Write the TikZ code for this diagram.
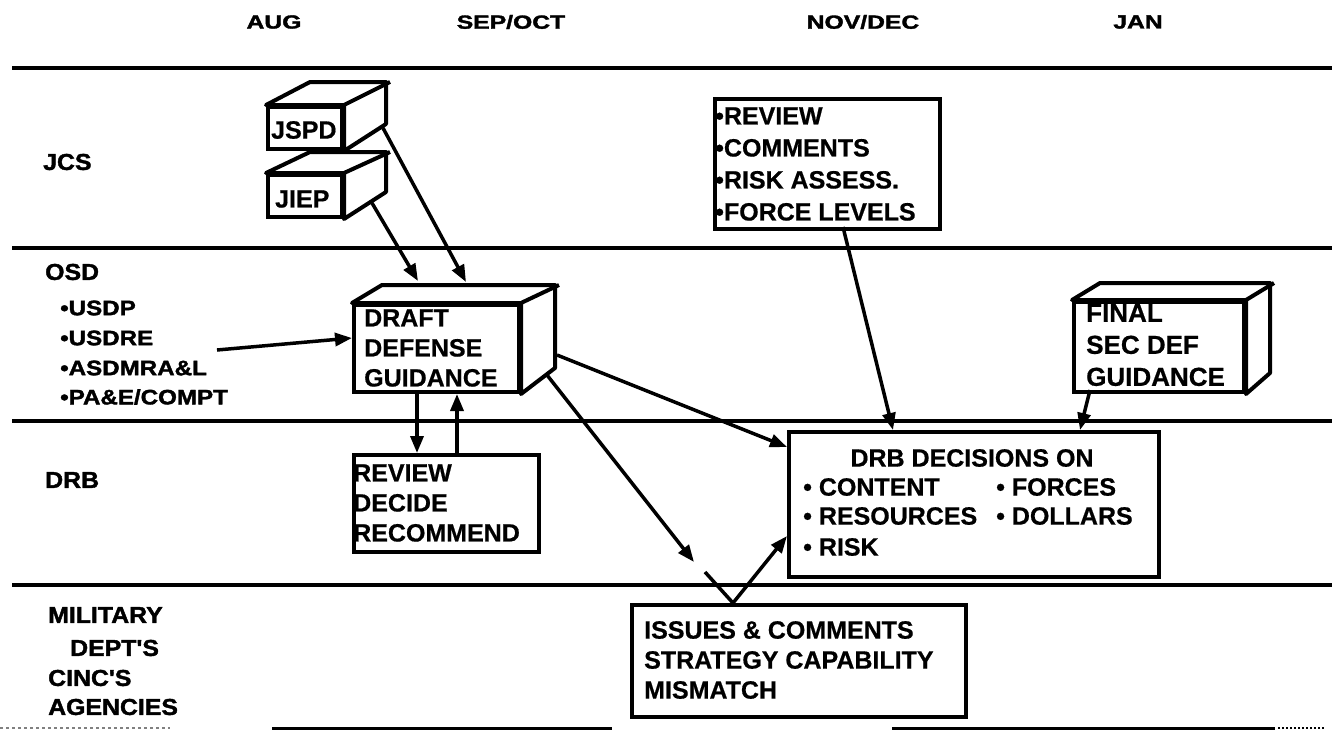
\documentclass[tikz,border=0pt]{standalone}
\usepackage{fontspec}
\setmainfont{Liberation Sans}
\newfontfamily\heavy[FakeBold=1.6]{Liberation Sans Bold}
\newfontfamily\boxfont[FakeBold=0.6]{Liberation Sans Bold}
\usetikzlibrary{arrows.meta,calc}
\begin{document}
\begin{tikzpicture}[x=1pt,y=-1pt,
  rule/.style={line width=3.5pt},
  box/.style={draw,line width=4pt,inner sep=0pt,anchor=north west},
  face/.style={draw,line width=4pt,line join=round,fill=white},
  txt/.style={anchor=west,inner sep=0pt,align=left,font=\fontsize{25}{31}\selectfont\boxfont},
  hdr/.style={inner sep=0pt,font=\fontsize{19}{19}\selectfont\heavy,xscale=1.3},
  rowlbl/.style={anchor=west,inner sep=0pt,font=\fontsize{23}{23}\selectfont\heavy,xscale=1.08},
  sublbl/.style={anchor=west,inner sep=0pt,font=\fontsize{21}{21}\selectfont\heavy,xscale=1.15},
  arr/.style={line width=3.5pt,-{Triangle[length=17pt,width=13pt]}},
  con/.style={line width=3.5pt},
]
\useasboundingbox (0,0) rectangle (1332,734);
\fill[white] (0,0) rectangle (1332,734);

% band rules
\foreach \yy in {68,248,421,585} \draw[rule] (12,\yy) -- (1332,\yy);
\draw[line width=2.5pt,dashed,black!50] (0,728) -- (170,728);
\draw[line width=3pt] (272,728) -- (612,728);
\draw[line width=3pt] (892,728) -- (1275,728);
\draw[line width=2pt,dotted] (1278,728) -- (1325,728);

% headers
\node[hdr] (hAug) at (274,22) {AUG};
\node[hdr] (hSep) at (511,22) {SEP/OCT};
\node[hdr] (hNov) at (863,22) {NOV/DEC};
\node[hdr] (hJan) at (1138,22) {JAN};

% row labels
\node[rowlbl] (rJcs) at (43,162) {JCS};
\node[rowlbl] (rOsd) at (45,272) {OSD};
\node[sublbl] (rUsdp) at (60,308) {\textbullet USDP};
\node[sublbl] (rUsdre) at (60,338) {\textbullet USDRE};
\node[sublbl] (rAsd) at (60,368) {\textbullet ASDMRA\&L};
\node[sublbl] (rPae) at (60,397) {\textbullet PA\&E/COMPT};
\node[rowlbl] (rDrb) at (45,480) {DRB};
\node[rowlbl] (rMil) at (48,615) {MILITARY};
\node[rowlbl] (rDept) at (70,648) {DEPT'S};
\node[rowlbl] (rCinc) at (48,678) {CINC'S};
\node[rowlbl] (rAg) at (48,707) {AGENCIES};

% JSPD box
\node[box,minimum width=74pt,minimum height=42pt] (jspd) at (266,105) {};
\draw[face] (jspd.north west) -- ++(44,-23) -- ++(76,0) -- ++(0,42) -- (jspd.south east) -- (jspd.north east) -- cycle;
\draw[line width=4pt] (jspd.north east) -- ++(46,-23);
\node[txt] (jspdT) at (271,130) {JSPD};

% JIEP box
\node[box,minimum width=74pt,minimum height=42pt] (jiep) at (266,173) {};
\draw[face] (jiep.north west) -- ++(44,-21) -- ++(76,0) -- ++(0,40) -- (jiep.south east) -- (jiep.north east) -- cycle;
\draw[line width=4pt] (jiep.north east) -- ++(46,-21);
\node[txt] (jiepT) at (275,199) {JIEP};

% Draft defense guidance
\node[box,minimum width=165pt,minimum height=87pt] (ddg) at (352,303) {};
\draw[face] (ddg.north west) -- ++(30,-18) -- ++(173,0) -- ++(0,83) -- (ddg.south east) -- (ddg.north east) -- cycle;
\draw[line width=4pt] (ddg.north east) -- ++(38,-18);
\node[txt,font=\fontsize{25}{30}\selectfont\boxfont] (ddgT) at (364,348) {DRAFT\\DEFENSE\\GUIDANCE};

% review decide recommend
\node[box,minimum width=185pt,minimum height=97pt] (rev) at (352,453) {};
\node[txt,font=\fontsize{25}{30}\selectfont\boxfont] (revT) at (353,503) {REVIEW\\DECIDE\\RECOMMEND};

% JCS review box
\node[box,minimum width=225pt,minimum height=130pt] (nov) at (713,97) {};
\node[txt,font=\fontsize{25}{32}\selectfont\boxfont] (novT) at (715,164) {\textbullet REVIEW\\\textbullet COMMENTS\\\textbullet RISK ASSESS.\\\textbullet FORCE LEVELS};

% final sec def guidance
\node[box,minimum width=170pt,minimum height=90pt] (fin) at (1072,300) {};
\draw[face] (fin.north west) -- ++(28,-17) -- ++(170,0) -- ++(0,90) -- (fin.south east) -- (fin.north east) -- cycle;
\draw[line width=4pt] (fin.north east) -- ++(28,-17);
\node[txt,font=\fontsize{26}{32}\selectfont\boxfont] (finT) at (1086,345) {FINAL\\SEC DEF\\GUIDANCE};

% DRB decisions
\node[box,minimum width=370pt,minimum height=145pt] (drb) at (787,430) {};
\node[txt,anchor=center] (drbT) at (972,458) {DRB DECISIONS ON};
\node[txt] (drbA) at (803,487) {\textbullet\ CONTENT};
\node[txt] (drbB) at (996,487) {\textbullet\ FORCES};
\node[txt] (drbC) at (803,516) {\textbullet\ RESOURCES};
\node[txt] (drbD) at (996,516) {\textbullet\ DOLLARS};
\node[txt] (drbE) at (803,547) {\textbullet\ RISK};

% issues
\node[box,minimum width=334pt,minimum height=112pt] (iss) at (630,603) {};
\node[txt,font=\fontsize{25}{30}\selectfont\boxfont] (issT) at (644,660) {ISSUES \& COMMENTS\\STRATEGY CAPABILITY\\MISMATCH};

% connector end points
\coordinate (jiepR) at (372,203);
\coordinate (jspdR) at (383,128);
\coordinate (ddgTopA) at (418,281);
\coordinate (ddgTopB) at (466,282);
\coordinate (asdEnd) at (217,350);
\coordinate (ddgL) at (352,338);
\coordinate (ddgR1) at (557,355);
\coordinate (ddgR2) at (547,375);
\coordinate (drbL1) at (787,447);
\coordinate (brk1) at (694,562);
\coordinate (brk2) at (705,572);
\coordinate (issTop) at (733,603);
\coordinate (drbL2) at (787,536);
\coordinate (novB) at (843,227);
\coordinate (drbT1) at (893,430);
\coordinate (finB) at (1090,390);
\coordinate (drbT2) at (1080,430);

% connectors
\draw[arr] (jiepR) -- (ddgTopA);
\draw[arr] (jspdR) -- (ddgTopB);
\draw[arr] (asdEnd) -- (ddgL);
\draw[arr] (ddg.south -| 417,0) -- (rev.north -| 417,0);
\draw[arr] (rev.north -| 457,0) -- (ddg.south -| 457,0);
\draw[arr] (ddgR1) -- (drbL1);
\draw[arr] (ddgR2) -- (brk1);
\draw[con] (brk2) -- (issTop);
\draw[arr] (issTop) -- (drbL2);
\draw[arr] (novB) -- (drbT1);
\draw[arr] (finB) -- (drbT2);
\end{tikzpicture}
\end{document}
